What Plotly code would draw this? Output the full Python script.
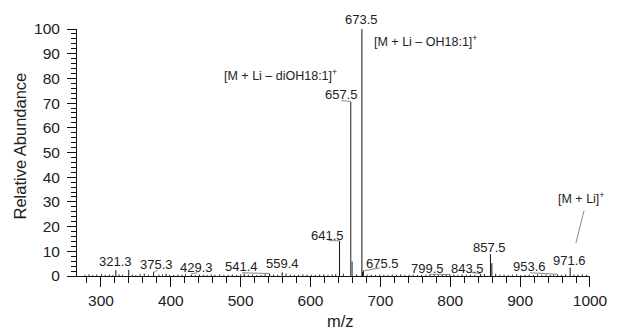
import plotly.graph_objects as go

# ---- data ----
peak_mz = [321.3, 339.8, 375.3, 393.2, 429.3, 505.0, 541.4, 559.4, 641.5, 657.5, 659.5,
           673.5, 674.5, 675.5, 799.5, 843.5, 857.5, 859.5, 953.6, 971.6]
peak_int = [2.4, 2.5, 1.7, 0.9, 0.6, 1.0, 0.9, 1.5, 14.2, 70.6, 5.9,
            100.0, 1.6, 2.3, 0.6, 0.8, 8.9, 5.2, 0.6, 3.4]

noise_mz = [277, 283, 288, 294, 301, 306, 312, 317, 326, 331,
            345, 350, 356, 362, 368, 383, 388, 398, 404, 410,
            416, 421, 435, 441, 447, 452, 458, 463, 470, 476,
            482, 488, 494, 500, 511, 517, 523, 529, 535, 547,
            553, 565, 571, 577, 583, 589, 595, 601, 607, 613,
            619, 625, 631, 636, 647, 666, 681, 687, 693, 699,
            705, 711, 717, 723, 729, 735, 741, 747, 753, 759,
            765, 771, 777, 783, 789, 794, 805, 811, 817, 823,
            829, 835, 849, 865, 871, 877, 883, 889, 895, 901,
            907, 913, 919, 925, 931, 937, 943, 948, 959, 965,
            977, 983, 989, 995]
noise_int = [0.5, 0.7, 0.4, 0.6, 0.8, 0.5, 0.6, 0.4, 0.7, 0.5,
             0.6, 0.4, 0.8, 1.0, 0.5, 0.6, 0.7, 0.5, 0.4, 0.6,
             0.5, 0.7, 0.4, 0.6, 0.5, 0.4, 0.6, 0.5, 0.7, 0.4,
             0.5, 0.6, 0.4, 0.7, 0.5, 0.6, 0.4, 0.5, 0.8, 0.6,
             0.5, 1.0, 0.6, 0.4, 0.5, 0.7, 0.6, 0.5, 0.4, 0.6,
             0.7, 0.5, 0.6, 0.8, 0.9, 0.7, 0.6, 0.5, 0.4, 0.6,
             0.5, 0.4, 0.6, 0.5, 0.7, 0.4, 0.5, 0.6, 0.4, 0.5,
             0.6, 0.4, 0.7, 0.5, 0.6, 0.5, 0.6, 0.4, 0.7, 0.5,
             0.6, 0.5, 0.8, 0.9, 0.5, 0.6, 0.4, 0.5, 0.7, 0.4,
             0.5, 0.6, 0.4, 0.7, 0.5, 0.6, 0.4, 0.6, 0.5, 0.7,
             0.6, 0.5, 0.7, 0.5]

# peak labels: text, x, y (label position in data units)
label_text = ["321.3", "375.3", "429.3", "541.4", "559.4", "641.5", "657.5",
              "675.5", "799.5", "843.5", "857.5", "953.6", "971.6"]
label_x = [320.1, 379.6, 436.8, 501.5, 559.2, 623.9, 643.6,
           702.7, 767.4, 825.0, 856.7, 912.9, 971.3]
label_y = [5.8, 4.5, 3.4, 3.8, 4.9, 16.6, 73.4,
           4.9, 3.1, 3.1, 11.6, 3.8, 6.2]
top_label = "673.5"

# leader lines: (x0, y0, x1, y1)
leaders = [(375.0, 1.3, 381.0, 2.4), (428.8, 0.8, 438.3, 1.3), (502.0, 1.3, 541.4, 1.0),
           (626.0, 14.3, 641.5, 14.3), (644.0, 71.0, 657.0, 70.7), (676.0, 2.1, 700.0, 3.3),
           (768.8, 0.7, 799.5, 0.6), (827.4, 1.6, 843.5, 0.9), (914.0, 1.3, 953.6, 0.7),
           (991.5, 26.5, 979.8, 13.3)]

ion_text = ["[M + Li \u2013 diOH18:1]<sup>+</sup>", "[M + Li \u2013 OH18:1]<sup>+</sup>",
            "[M + Li]<sup>+</sup>"]
ion_x = [557.1, 688.6, 986.8]
ion_y = [81.3, 95.2, 31.5]
ion_anchor = ["center", "left", "center"]

# style: which peaks are drawn in grey
GREY_PEAKS = {657.5, 659.5}

# ---- build stick spectrum ----
def sticks(mz, inten):
    xs, ys = [], []
    for m, v in zip(mz, inten):
        xs += [m, m, None]
        ys += [0, v, None]
    return xs, ys

fig = go.Figure()
nx, ny = sticks(noise_mz, noise_int)
fig.add_trace(go.Scatter(x=nx, y=ny, mode="lines", line=dict(color="#333", width=1),
                         hoverinfo="skip", showlegend=False))
dark = [(m, v) for m, v in zip(peak_mz, peak_int) if m not in GREY_PEAKS]
grey = [(m, v) for m, v in zip(peak_mz, peak_int) if m in GREY_PEAKS]
gx, gy = sticks([m for m, _ in grey], [v for _, v in grey])
fig.add_trace(go.Scatter(x=gx, y=gy, mode="lines", line=dict(color="#555", width=1.3),
                         hoverinfo="skip", showlegend=False))
dx, dy = sticks([m for m, _ in dark], [v for _, v in dark])
fig.add_trace(go.Scatter(x=dx, y=dy, mode="lines", line=dict(color="#111", width=1),
                         hoverinfo="skip", showlegend=False))

for (x0, y0, x1, y1) in leaders:
    fig.add_shape(type="line", x0=x0, y0=y0, x1=x1, y1=y1, xref="x", yref="y",
                  line=dict(color="#888", width=1))

FONT = "Liberation Sans, Arial, sans-serif"
for t, x, y in zip(label_text, label_x, label_y):
    fig.add_annotation(x=x, y=y, text=t, showarrow=False, xanchor="center", yanchor="middle",
                       font=dict(family=FONT, size=13, color="#222"))
fig.add_annotation(x=673.0, xref="x", yref="paper", y=1 + 9 / 247, text=top_label,
                   showarrow=False, xanchor="center", yanchor="middle",
                   font=dict(family=FONT, size=13, color="#222"))
for t, x, y, a in zip(ion_text, ion_x, ion_y, ion_anchor):
    fig.add_annotation(x=x, y=y, text=t, showarrow=False, xanchor=a, yanchor="middle",
                       font=dict(family=FONT, size=12.5, color="#222"))

# axis titles
fig.add_annotation(xref="paper", yref="paper", x=(18.5 - 77) / 522, y=(276 - 146) / 247,
                   text="Relative Abundance", textangle=-90, showarrow=False,
                   xanchor="center", yanchor="middle",
                   font=dict(family=FONT, size=16.5, color="#222"))
fig.add_annotation(xref="paper", yref="paper", x=(345 - 77) / 522, y=-(321 - 276) / 247,
                   text="m/z", showarrow=False, xanchor="center", yanchor="middle",
                   font=dict(family=FONT, size=16.5, color="#222"))

fig.update_layout(
    width=620, height=329,
    margin=dict(l=77, r=21, t=29, b=53),
    paper_bgcolor="white", plot_bgcolor="white",
    font=dict(family=FONT, color="#222"),
    xaxis=dict(range=[265.7, 1000.01], dtick=100, tick0=0, showgrid=False, zeroline=False,
               showline=True, linecolor="#111", linewidth=1,
               ticks="outside", ticklen=10, tickcolor="#111", tickwidth=1,
               ticklabelstandoff=0,
               tickfont=dict(family=FONT, size=15.5, color="#222"),
               minor=dict(dtick=20, tick0=0, ticks="outside", ticklen=6, tickcolor="#111",
                          showgrid=False)),
    yaxis=dict(range=[0, 100], dtick=10, tick0=0, showgrid=False, zeroline=False,
               showline=True, linecolor="#111", linewidth=1,
               ticks="outside", ticklen=9, tickcolor="#111", tickwidth=1,
               ticklabelstandoff=4,
               tickfont=dict(family=FONT, size=15.5, color="#222"),
               minor=dict(dtick=2, tick0=0, ticks="outside", ticklen=5, tickcolor="#111",
                          showgrid=False)),
)

fig.write_html("out.html", config={"displayModeBar": False},
               post_script="document.body.style.margin='0';document.body.style.overflow='hidden';")
